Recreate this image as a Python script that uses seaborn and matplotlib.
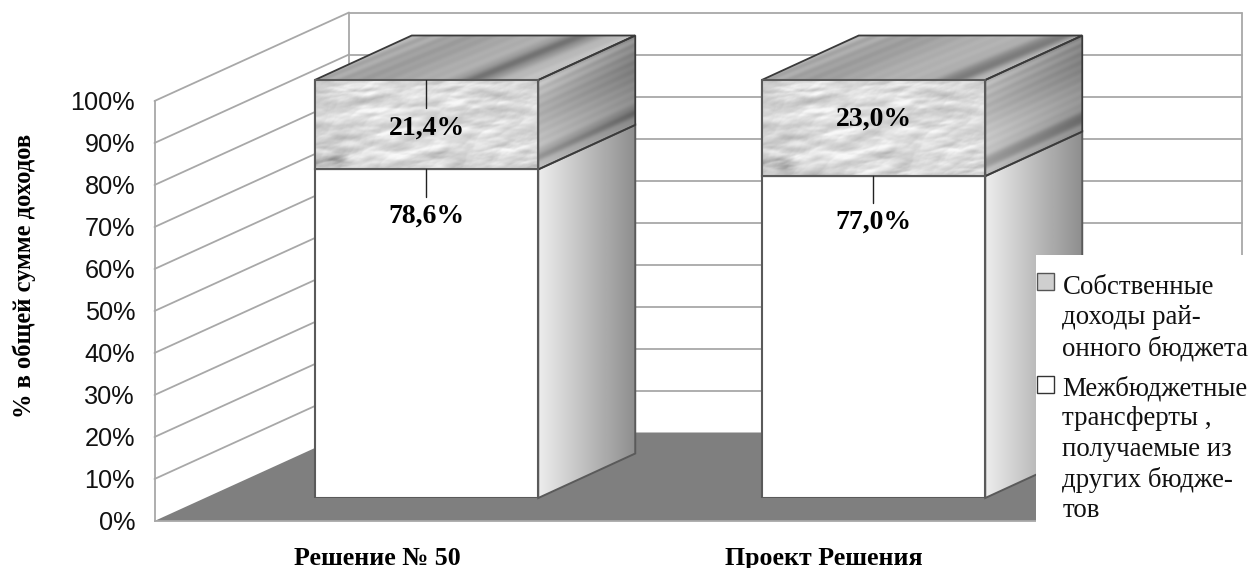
import numpy as np
import pandas as pd
import matplotlib
matplotlib.use("Agg")
import matplotlib.pyplot as plt
from matplotlib.patches import Polygon, Rectangle, Patch
from matplotlib.legend_handler import HandlerPatch
import seaborn as sns

categories = ["Решение № 50", "Проект Решения"]
transfers = [78.6, 77.0]
own_income = [21.4, 23.0]
transfers_labels = ["78,6%", "77,0%"]
own_labels = ["21,4%", "23,0%"]
y_ticks = [0, 10, 20, 30, 40, 50, 60, 70, 80, 90, 100]
y_title = "% в общей сумме доходов"
legend_labels = ["Собственные\nдоходы рай-\nонного бюджета",
                 "Межбюджетные\nтрансферты ,\nполучаемые из\nдругих бюдже-\nтов"]

sns.set_style("white")
plt.rcParams["font.family"] = ["Liberation Serif", "DejaVu Serif"]

W, H = 1254, 568
fig = plt.figure(figsize=(W / 100, H / 100), dpi=100)


def axes_px(x0, x1, y_bottom, y_top):
    return fig.add_axes([x0 / W, (H - y_bottom) / H, (x1 - x0) / W, (y_bottom - y_top) / H])


GRID = "#a8a8a8"
EDGE = "#5a5a5a"
EDGE_DK = "#3a3a3a"

# ---- walls and floor (front plane of the chart box)
ax_wall = axes_px(154.5, 1047.5, 521, 101)
ax_wall.set_zorder(1)
ax_wall.set_xlim(-0.5, 1.5)
ax_wall.set_ylim(0, 100)
ax_wall.patch.set_visible(False)
ddx, ddy = 194.5 / 446.5, 88.5 / 4.2
x0, x1 = -0.5, 1.5
ax_wall.add_patch(Polygon([(x0, 0), (x0 + ddx, ddy), (x1 + ddx, ddy), (x1, 0)],
                          closed=True, fc="#7f7f7f", ec="none", clip_on=False, zorder=1))
for v in y_ticks:
    if v > 0:
        ax_wall.plot([x0, x0 + ddx], [v, v + ddy], color=GRID, lw=1.3, clip_on=False, zorder=1.5)
        ax_wall.plot([x0 + ddx, x1 + ddx], [v + ddy, v + ddy], color=GRID, lw=1.3, clip_on=False, zorder=1.5)
ax_wall.plot([x0 + ddx, x0 + ddx], [ddy, 100 + ddy], color=GRID, lw=1.3, clip_on=False, zorder=1.5)
ax_wall.plot([x1 + ddx, x1 + ddx], [ddy, 100 + ddy], color=GRID, lw=1.3, clip_on=False, zorder=1.5)
for s in ["top", "right"]:
    ax_wall.spines[s].set_visible(False)
for s in ["left", "bottom"]:
    ax_wall.spines[s].set_color(GRID)
    ax_wall.spines[s].set_linewidth(1.3)
ax_wall.set_xticks([0, 1])
ax_wall.set_xticklabels(categories, fontsize=18.6, fontweight="bold", color="black")
ax_wall.tick_params(axis="x", length=0, pad=19, bottom=False)
ax_wall.set_yticks(y_ticks)
ax_wall.set_yticklabels([f"{v}%" for v in y_ticks], family="Liberation Sans", fontsize=18.2, color="#111111")
ax_wall.tick_params(axis="y", length=0, pad=14, left=False)
ax_wall.set_ylabel(y_title, fontsize=17.7, fontweight="bold", color="black")
ax_wall.yaxis.set_label_coords((36 - 154.5) / 893, (521 - 276) / 420)

# ---- bars, on their own plane inside the box
ax_bar = axes_px(203, 1097, 498, 80)
ax_bar.set_zorder(2)
ax_bar.patch.set_visible(False)
df = pd.DataFrame({"cat": categories, "transfers": transfers, "own": own_income})
sns.barplot(data=df, x="cat", y="transfers", ax=ax_bar, color="white", width=0.5, saturation=1,
            edgecolor=EDGE, linewidth=1.5, zorder=3)
sns.barplot(data=df, x="cat", y="own", bottom=df["transfers"], ax=ax_bar, color="#d2d2d2", width=0.5,
            saturation=1, edgecolor=EDGE, linewidth=1.5, zorder=3)
ax_bar.set_xlabel("")
ax_bar.set_ylabel("")
ax_bar.set_xticks([])
ax_bar.set_yticks([])
for s in ax_bar.spines.values():
    s.set_visible(False)


def crumple(w, h):
    """Crumpled-paper look: an embossed height field with sharp creases."""
    X, Y = np.meshgrid(np.arange(w, dtype=float), np.arange(h, dtype=float))
    warp = 0.5 * np.sin(X * 0.043 + Y * 0.11) + 0.4 * np.sin(X * 0.019 - Y * 0.17 + 1.3)
    field = np.zeros_like(X)
    for k in range(1, 61):
        ang = k * 2.39996
        fr = 0.05 + 0.022 * (k % 11)
        a = fr * 0.55 * np.cos(ang)
        b = fr * 1.2 * np.sin(ang)
        field += np.abs(np.sin(a * X + b * Y + k * 1.618 + warp)) / (fr * 12)
    gy, gx = np.gradient(field)
    f = 0.885 + 0.075 * (gx + 1.3 * gy)
    f -= 0.045 * (0.5 + 0.5 * np.sin(X * 0.021 + Y * 0.06 + 0.7) * np.sin(X * 0.047 - Y * 0.09 + 2.0))
    f -= 0.20 * np.exp(-(((X - 22) / 11) ** 2 + ((Y - h + 10) / 7) ** 2))
    f -= 0.08 * np.exp(-(((X - w + 50) / 28) ** 2 + ((Y - 18) / 9) ** 2))
    f -= 0.06 * np.exp(-X / 12) + 0.05 * np.exp(-(h - Y) / 8)
    return np.clip(f, 0.35, 0.97)


def streaks(w, h, slope):
    X, Y = np.meshgrid(np.arange(w, dtype=float), np.arange(h, dtype=float))
    u = Y + slope * X
    f = np.zeros_like(X)
    for k in range(1, 15):
        f += np.sin(u * (0.11 + 0.043 * k) + k * 4.854)
    f = f / np.abs(f).max()
    return X, Y, u, f


def textured(ax, arr, extent, outline, z):
    im = ax.imshow(arr, cmap="gray", vmin=0, vmax=1, aspect="auto", extent=extent,
                   zorder=z, interpolation="bilinear")
    im.set_clip_path(outline)
    im.set_clip_box(fig.bbox)


bar_w = 0.5
dbx, dby = 97 / 447, 44.5 / 4.18
for i, (tr, own) in enumerate(zip(transfers, own_income)):
    L, R = i - bar_w / 2, i + bar_w / 2
    total = tr + own
    # front texture of the upper segment
    clip = Rectangle((L, tr), bar_w, own, fc="none", ec="none")
    ax_bar.add_patch(clip)
    textured(ax_bar, crumple(223, int(round(own * 4.18))), (L, R, tr, total), clip, 3.2)
    ax_bar.add_patch(Rectangle((L, tr), bar_w, own, fc="none", ec=EDGE, lw=1.5, zorder=3.4, clip_on=False))

    # side of lower segment: horizontal gradient
    grad = np.linspace(0.93, 0.56, 97).reshape(1, -1)
    poly = Polygon([(R, 0), (R + dbx, dby), (R + dbx, tr + dby), (R, tr)], closed=True,
                   fc="none", ec=EDGE, lw=1.4, zorder=2.4, clip_on=False)
    ax_bar.add_patch(poly)
    textured(ax_bar, grad, (R, R + dbx, 0, tr + dby), poly, 2.2)

    # side of upper segment: streaks along the depth direction
    sw, sh = 97, int(round((own + dby) * 4.18))
    X, Y, u, f = streaks(sw, sh, 0.459)
    tex = 0.74 + 0.30 * f - 0.20 * (X / sw) + 0.04 * np.sin(u * 0.05 + 1.0 + i)
    tex -= 0.16 * np.exp(-((u - (sh - own * 0.6)) / 6.0) ** 2)
    poly = Polygon([(R, tr), (R + dbx, tr + dby), (R + dbx, total + dby), (R, total)], closed=True,
                   fc="none", ec=EDGE_DK, lw=1.3, zorder=2.6, clip_on=False)
    ax_bar.add_patch(poly)
    textured(ax_bar, np.clip(tex, 0, 1), (R, R + dbx, tr, total + dby), poly, 2.3)

    # top face
    tw, th = 223 + 97, int(round(dby * 4.18))
    X, Y, u, f = streaks(tw, th, 0.40)
    tex = 0.69 + 0.24 * f
    tex -= 0.24 * np.exp(-((u - (106 + 14 * i)) / 7.0) ** 2)
    tex -= 0.08 * np.exp(-((u - 60) / 16.0) ** 2)
    tex += 0.08 * np.exp(-((u - 128) / 10.0) ** 2)
    poly = Polygon([(L, total), (L + dbx, total + dby), (R + dbx, total + dby), (R, total)], closed=True,
                   fc="none", ec=EDGE_DK, lw=1.3, zorder=2.6, clip_on=False)
    ax_bar.add_patch(poly)
    textured(ax_bar, np.clip(tex, 0, 1), (L, R + dbx, total, total + dby), poly, 2.3)

ax_bar.set_xlim(-0.5, 1.5)
ax_bar.set_ylim(0, 100)

# ---- value labels with leader lines
own_shift = [0.0, 2.9]
own_leader = [6.7, 0.0]
for i in range(len(categories)):
    tr, own = transfers[i], own_income[i]
    ax_bar.plot([i - 0.001, i - 0.001], [tr, tr - 6.5], color="#222222", lw=1.0, zorder=5)
    if own_leader[i]:
        ax_bar.plot([i - 0.001, i - 0.001], [tr + own, tr + own - own_leader[i]], color="#222222", lw=1.0, zorder=5)
    ax_bar.text(i, tr - 10.4, transfers_labels[i], ha="center", va="center_baseline", fontsize=20,
                fontweight="bold", color="black", zorder=6)
    ax_bar.text(i, tr + own / 2 + own_shift[i], own_labels[i], ha="center", va="center_baseline", fontsize=20,
                fontweight="bold", color="black", zorder=6)

# ---- legend on a white panel
fig.add_artist(Rectangle((1036 / W, 0), (W - 1036) / W, (H - 255) / H, transform=fig.transFigure,
                         fc="white", ec="none", zorder=5))


class FirstLineHandler(HandlerPatch):
    def __init__(self, shift):
        super().__init__()
        self.shift = shift

    def create_artists(self, legend, orig_handle, xdescent, ydescent, width, height, fontsize, trans):
        p = Rectangle((-xdescent, -ydescent + self.shift), width, height, transform=trans,
                      fc=orig_handle.get_facecolor(), ec=orig_handle.get_edgecolor(), lw=1.0)
        return [p]


h_own = Patch(fc="#cfcfcf", ec="#555555")
h_tr = Patch(fc="white", ec="#333333")
leg = fig.legend([h_own, h_tr], legend_labels,
                 loc="upper left", bbox_to_anchor=(1036 / W, (H - 274) / H),
                 bbox_transform=fig.transFigure, frameon=False, fontsize=19.4,
                 handlelength=0.63, handleheight=0.6, handletextpad=0.3, labelspacing=0.54,
                 borderaxespad=0, borderpad=0.05,
                 handler_map={h_own: FirstLineHandler(26.6), h_tr: FirstLineHandler(47.0)})
leg.set_zorder(6)
for t in leg.get_texts():
    t.set_linespacing(1.27)
    t.set_color("#111111")

fig.savefig("out.png", dpi=100, facecolor="white")
